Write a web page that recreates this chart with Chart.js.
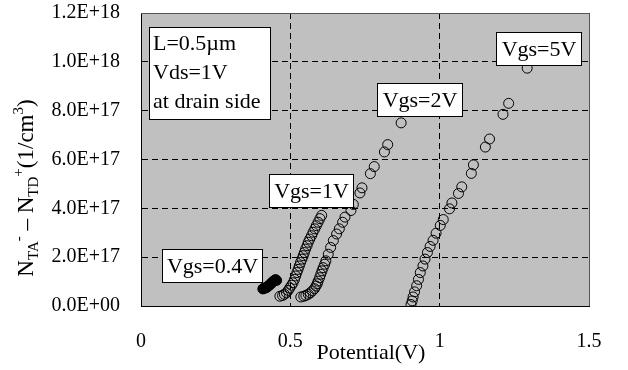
<!DOCTYPE html>
<html lang="en">
  <head>
    <meta charset="UTF-8" />
    <title>Net trapped charge vs potential</title>
    <script src="https://cdn.jsdelivr.net/npm/chart.js"></script>
    <style>
      body { margin: 0; background: #fff; }
      canvas { display: block; }
    </style>
  </head>
  <body>
    <canvas id="chart" width="628" height="370"></canvas>
    <script>
      // data (potential in V, density in 1/cm^3)
      const vgs04X = [0.408, 0.411, 0.414, 0.418, 0.421, 0.424, 0.428, 0.431, 0.435, 0.438, 0.441, 0.445, 0.448, 0.451, 0.454];
      const vgs04Y = [7.0e16, 7.2e16, 7.4e16, 7.4e16, 7.7e16, 7.9e16, 8.3e16, 8.7e16, 9.1e16, 9.5e16, 9.9e16, 1.03e17, 1.06e17, 1.08e17, 1.05e17];

      const vgs1X = [0.605, 0.599, 0.593, 0.587, 0.582, 0.576, 0.571, 0.565, 0.560, 0.556, 0.551, 0.547, 0.543, 0.539,
                     0.534, 0.530, 0.526, 0.522, 0.518, 0.514, 0.509, 0.504, 0.498, 0.493, 0.487, 0.480, 0.474, 0.465];
      const vgs1Y = [3.71e17, 3.58e17, 3.43e17, 3.29e17, 3.16e17, 3.02e17, 2.88e17, 2.74e17, 2.61e17, 2.47e17, 2.33e17, 2.19e17, 2.06e17, 1.92e17,
                     1.78e17, 1.64e17, 1.50e17, 1.37e17, 1.23e17, 1.09e17, 9.5e16, 8.5e16, 7.4e16, 6.4e16, 5.4e16, 4.8e16, 4.3e16, 4.0e16];

      const vgs2X = [0.871, 0.826, 0.815, 0.781, 0.768, 0.740, 0.733, 0.711, 0.703, 0.683, 0.675, 0.664, 0.655, 0.644, 0.635, 0.627,
                     0.619, 0.615, 0.610, 0.606, 0.602, 0.598, 0.593, 0.590, 0.586, 0.581, 0.574, 0.567, 0.560, 0.552, 0.545, 0.535];
      const vgs2Y = [7.50e17, 6.61e17, 6.31e17, 5.71e17, 5.42e17, 4.84e17, 4.63e17, 4.16e17, 3.91e17, 3.64e17, 3.43e17, 3.16e17, 2.95e17, 2.68e17, 2.40e17, 2.12e17,
                     1.85e17, 1.71e17, 1.57e17, 1.44e17, 1.30e17, 1.16e17, 1.02e17, 9.1e16, 8.2e16, 7.1e16, 6.2e16, 5.4e16, 4.8e16, 4.3e16, 4.0e16, 3.7e16];

      const vgs5X = [1.293, 1.231, 1.212, 1.167, 1.153, 1.113, 1.106, 1.074, 1.063, 1.041, 1.033, 1.012, 1.002, 0.988,
                     0.978, 0.968, 0.959, 0.951, 0.944, 0.935, 0.929, 0.923, 0.916, 0.911, 0.908, 0.904];
      const vgs5Y = [9.74e17, 8.30e17, 7.85e17, 6.84e17, 6.51e17, 5.78e17, 5.43e17, 4.88e17, 4.61e17, 4.22e17, 3.98e17, 3.54e17, 3.30e17, 2.98e17,
                     2.69e17, 2.44e17, 2.19e17, 1.92e17, 1.64e17, 1.37e17, 1.09e17, 8.3e16, 5.8e16, 3.7e16, 2.1e16, 6e15];

      const seriesNames = ['Vgs=0.4V', 'Vgs=1V', 'Vgs=2V', 'Vgs=5V'];
      const xTickLabels = ['0', '0.5', '1', '1.5'];
      const yTickLabels = ['0.0E+00', '2.0E+17', '4.0E+17', '6.0E+17', '8.0E+17', '1.0E+18', '1.2E+18'];
      const noteLines = ['L=0.5\u00b5m', 'Vds=1V', 'at drain side'];

      const serif = '"Liberation Serif", "Times New Roman", serif';

      function toPoints(xs, ys) {
        return xs.map((x, i) => ({ x: x, y: ys[i] }));
      }

      const seriesData = [
        toPoints(vgs04X, vgs04Y),
        toPoints(vgs1X, vgs1Y),
        toPoints(vgs2X, vgs2Y),
        toPoints(vgs5X, vgs5Y)
      ];
      // the 0.4V points overlap so much they show as a solid blob
      const seriesFill = ['#000', 'rgba(0,0,0,0)', 'rgba(0,0,0,0)', 'rgba(0,0,0,0)'];

      // gray plot area and frame
      const plotBack = {
        id: 'plotBack',
        beforeDraw(chart) {
          const { ctx, chartArea: a } = chart;
          ctx.save();
          ctx.fillStyle = '#c0c0c0';
          ctx.fillRect(a.left, a.top, a.right - a.left, a.bottom - a.top);
          ctx.restore();
        },
        afterDatasetsDraw(chart) {
          const { ctx, chartArea: a } = chart;
          ctx.save();
          ctx.strokeStyle = '#555';
          ctx.lineWidth = 1;
          ctx.beginPath();
          ctx.moveTo(a.left, a.top + 0.5);
          ctx.lineTo(a.right + 0.5, a.top + 0.5);
          ctx.lineTo(a.right + 0.5, a.bottom);
          ctx.stroke();
          ctx.restore();
        }
      };

      // text boxes and axis titles
      const labels = {
        id: 'labels',
        afterDatasetsDraw(chart) {
          const { ctx } = chart;
          ctx.save();
          ctx.font = '22px ' + serif;
          ctx.textBaseline = 'middle';

          function box(x, y, w, h) {
            ctx.fillStyle = '#fff';
            ctx.fillRect(x, y, w, h);
            ctx.strokeStyle = '#000';
            ctx.lineWidth = 1;
            ctx.strokeRect(x + 0.5, y + 0.5, w, h);
          }

          // series labels
          const boxes = [
            [162, 249, 100, 33],
            [269, 174, 84, 33],
            [377, 83, 85, 33],
            [496, 32, 85, 33]
          ];
          ctx.textAlign = 'center';
          boxes.forEach((b, i) => {
            box(b[0], b[1], b[2], b[3]);
            ctx.fillStyle = '#000';
            ctx.fillText(seriesNames[i], b[0] + b[2] / 2 + 0.5, b[1] + b[3] / 2 + 1.5);
          });

          // condition note
          box(149, 27, 121, 92);
          ctx.textAlign = 'left';
          ctx.fillStyle = '#000';
          noteLines.forEach((t, i) => {
            ctx.fillText(t, 153, 44 + i * 29);
          });

          // x title
          ctx.textAlign = 'center';
          ctx.textBaseline = 'alphabetic';
          ctx.font = '22px ' + serif;
          ctx.fillText('Potential(V)', 371, 359);

          // y title with sub/superscripts, rotated
          const parts = [
            ['N', 0, 23], ['TA', 5, 15], ['-', -10, 15], [' \u2013 N', 0, 23],
            ['TD', 5, 15], ['+', -10, 15], ['(1/cm', 0, 23], ['3', -10, 15], [')', 0, 23]
          ];
          let total = 0;
          parts.forEach(p => {
            ctx.font = p[2] + 'px ' + serif;
            total += ctx.measureText(p[0]).width;
          });
          ctx.translate(33, 188 + total / 2);
          ctx.rotate(-Math.PI / 2);
          ctx.textAlign = 'left';
          let pos = 0;
          parts.forEach(p => {
            ctx.font = p[2] + 'px ' + serif;
            ctx.fillText(p[0], pos, p[1]);
            pos += ctx.measureText(p[0]).width;
          });
          ctx.restore();
        }
      };

      function noScalePadding(scale) {
        scale.paddingTop = 0;
        scale.paddingBottom = 0;
        scale.paddingLeft = 0;
        scale.paddingRight = 0;
      }

      new Chart(document.getElementById('chart'), {
        type: 'scatter',
        data: {
          datasets: seriesData.map((pts, i) => ({
            label: seriesNames[i],
            data: pts,
            pointStyle: 'circle',
            pointRadius: 5,
            pointBorderWidth: 1,
            borderColor: '#000',
            backgroundColor: seriesFill[i],
            showLine: false
          }))
        },
        options: {
          responsive: false,
          devicePixelRatio: 1,
          animation: false,
          layout: { padding: { left: 0, right: 39, top: 13, bottom: 0 } },
          plugins: {
            legend: { display: false },
            tooltip: { enabled: false }
          },
          scales: {
            x: {
              type: 'linear',
              min: 0,
              max: 1.5,
              afterFit(scale) { scale.height = 64; noScalePadding(scale); },
              afterBuildTicks(scale) {
                scale.ticks = xTickLabels.map(t => ({ value: parseFloat(t) }));
              },
              ticks: {
                padding: 24,
                color: '#000',
                font: { family: serif, size: 20 },
                callback: (v, i) => xTickLabels[i]
              },
              grid: {
                color: '#000',
                lineWidth: 1,
                drawTicks: false
              },
              border: { display: true, color: '#000', width: 1, dash: [6, 4] }
            },
            y: {
              type: 'linear',
              min: 0,
              max: 1.2e18,
              afterFit(scale) { scale.width = 141; noScalePadding(scale); },
              afterBuildTicks(scale) {
                scale.ticks = yTickLabels.map(t => ({ value: parseFloat(t) }));
              },
              ticks: {
                padding: 21,
                color: '#000',
                font: { family: serif, size: 20 },
                callback: (v, i) => yTickLabels[i]
              },
              grid: {
                color: '#000',
                lineWidth: 1,
                drawTicks: false
              },
              border: { display: true, color: '#000', width: 1, dash: [6, 4] }
            }
          }
        },
        plugins: [plotBack, labels]
      });
    </script>
  </body>
</html>
